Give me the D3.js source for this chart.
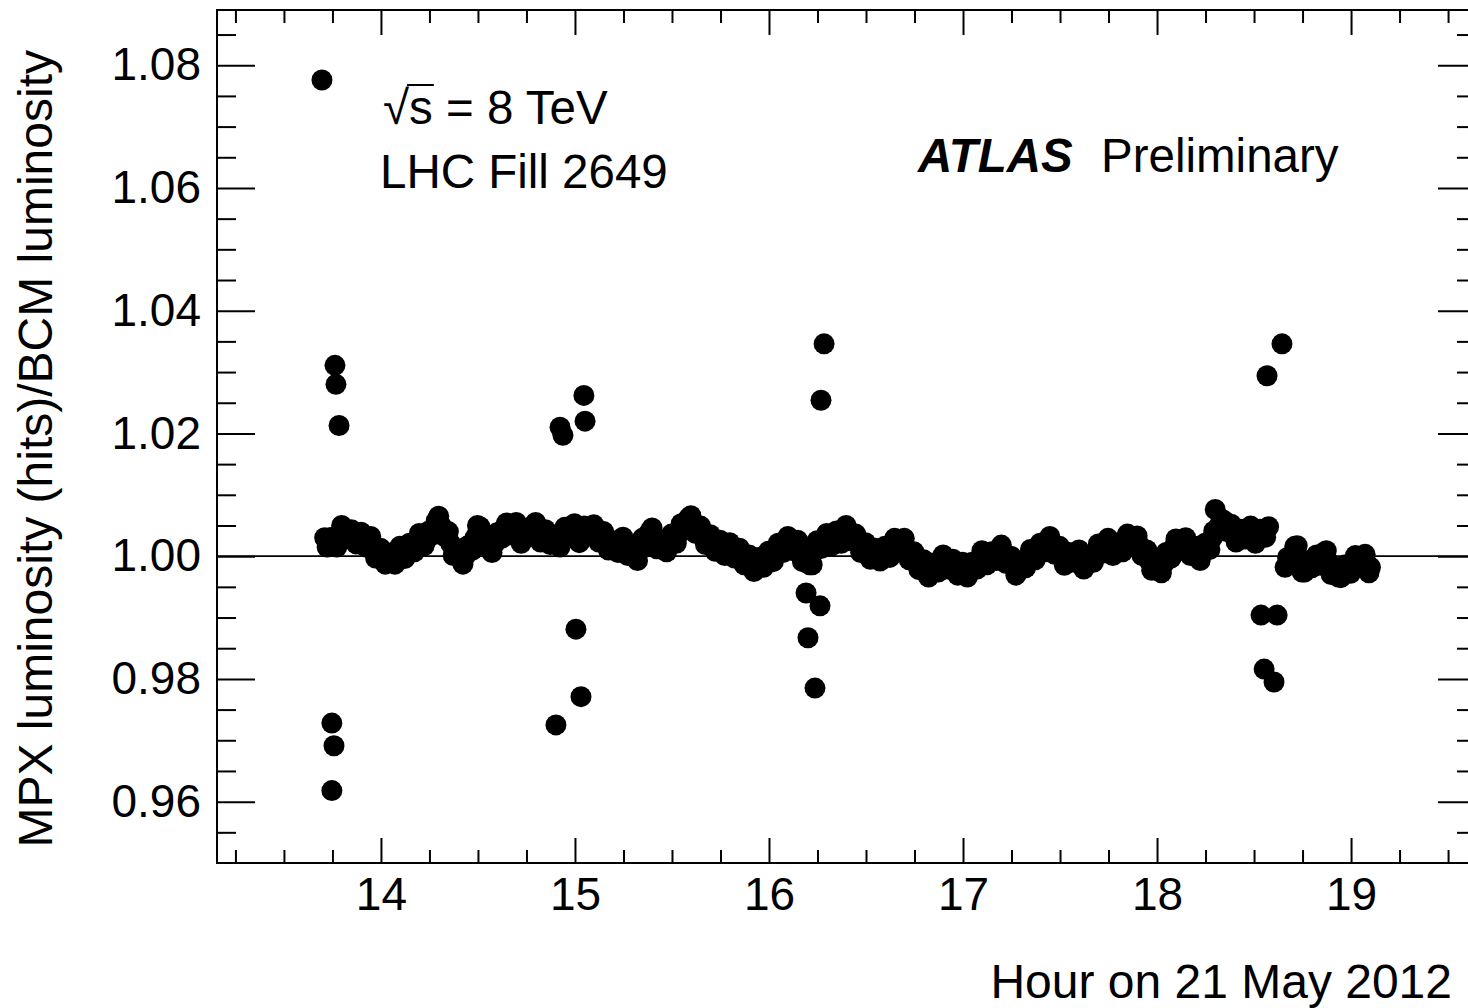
<!DOCTYPE html>
<html lang="en">
<head>
<meta charset="UTF-8">
<title>MPX / BCM luminosity ratio</title>
<script src="https://d3js.org/d3.v7.min.js"></script>
<style>
    body { margin: 0; background: #fff; overflow: hidden; }
    svg { display: block; font-family: "Liberation Sans", Arial, sans-serif; }
    .axis path { display: none; }
    .axis line { stroke: #000; stroke-width: 2; }
    .axis text { font-size: 46px; fill: #000; font-family: "Liberation Sans", Arial, sans-serif; }
</style>
</head>
<body>
<svg id="chart" width="1468" height="1008"></svg>
<script>
// band of ratio points (hour, MPX/BCM)
const bandHours = [
    13.710, 13.735, 13.760, 13.785, 13.810, 13.835, 13.860, 13.885, 13.910, 13.935,
    13.960, 13.985, 14.010, 14.035, 14.060, 14.085, 14.110, 14.135, 14.160, 14.185,
    14.210, 14.235, 14.260, 14.285, 14.310, 14.335, 14.360, 14.385, 14.410, 14.435,
    14.460, 14.485, 14.510, 14.535, 14.560, 14.585, 14.610, 14.635, 14.660, 14.685,
    14.710, 14.735, 14.760, 14.785, 14.810, 14.835, 14.860, 14.885, 14.910, 14.935,
    14.960, 14.985, 15.010, 15.035, 15.060, 15.085, 15.110, 15.135, 15.160, 15.185,
    15.210, 15.235, 15.260, 15.285, 15.310, 15.335, 15.360, 15.385, 15.410, 15.435,
    15.460, 15.485, 15.510, 15.535, 15.560, 15.585, 15.610, 15.635, 15.660, 15.685,
    15.710, 15.735, 15.760, 15.785, 15.810, 15.835, 15.860, 15.885, 15.910, 15.935,
    15.960, 15.985, 16.010, 16.035, 16.060, 16.085, 16.110, 16.135, 16.160, 16.185,
    16.210, 16.235, 16.260, 16.285, 16.310, 16.335, 16.360, 16.385, 16.410, 16.435,
    16.460, 16.485, 16.510, 16.535, 16.560, 16.585, 16.610, 16.635, 16.660, 16.685,
    16.710, 16.735, 16.760, 16.785, 16.810, 16.835, 16.860, 16.885, 16.910, 16.935,
    16.960, 16.985, 17.010, 17.035, 17.060, 17.085, 17.110, 17.135, 17.160, 17.185,
    17.210, 17.235, 17.260, 17.285, 17.310, 17.335, 17.360, 17.385, 17.410, 17.435,
    17.460, 17.485, 17.510, 17.535, 17.560, 17.585, 17.610, 17.635, 17.660, 17.685,
    17.710, 17.735, 17.760, 17.785, 17.810, 17.835, 17.860, 17.885, 17.910, 17.935,
    17.960, 17.985, 18.010, 18.035, 18.060, 18.085, 18.110, 18.135, 18.160, 18.185,
    18.210, 18.235, 18.260, 18.285, 18.300, 18.320, 18.345, 18.370, 18.395, 18.420,
    18.445, 18.470, 18.495, 18.520, 18.545, 18.575, 18.660, 18.685, 18.710, 18.735,
    18.760, 18.785, 18.810, 18.835, 18.860, 18.885, 18.910, 18.935, 18.960, 18.985,
    19.010, 19.035, 19.060, 19.085, 19.100
];
const bandRatio = [
    1.0030, 1.0022, 1.0018, 1.0035, 1.0044, 1.0036, 1.0028, 1.0035, 1.0022, 1.0030,
    1.0012, 1.0004, 1.0000, 0.9996, 0.9993, 1.0003, 1.0008, 1.0006, 1.0015, 1.0022,
    1.0030, 1.0026, 1.0035, 1.0058, 1.0050, 1.0038, 1.0020, 1.0004, 0.9996, 1.0000,
    1.0012, 1.0030, 1.0048, 1.0030, 1.0015, 1.0020, 1.0035, 1.0046, 1.0040, 1.0052,
    1.0036, 1.0028, 1.0040, 1.0050, 1.0038, 1.0030, 1.0034, 1.0026, 1.0022, 1.0030,
    1.0042, 1.0048, 1.0036, 1.0030, 1.0046, 1.0044, 1.0036, 1.0032, 1.0026, 1.0016,
    1.0012, 1.0022, 1.0018, 1.0005, 0.9998, 1.0010, 1.0025, 1.0040, 1.0030, 1.0016,
    1.0014, 1.0022, 1.0028, 1.0036, 1.0048, 1.0062, 1.0055, 1.0042, 1.0034, 1.0026,
    1.0022, 1.0016, 1.0014, 1.0010, 1.0012, 1.0004, 1.0000, 0.9994, 0.9988, 0.9984,
    0.9990, 0.9996, 0.9998, 1.0006, 1.0014, 1.0020, 1.0022, 1.0018, 1.0012, 0.9992,
    0.9986, 1.0008, 1.0020, 1.0028, 1.0024, 1.0032, 1.0028, 1.0036, 1.0042, 1.0030,
    1.0020, 1.0014, 1.0008, 1.0004, 1.0000, 1.0006, 1.0004, 1.0014, 1.0022, 1.0026,
    1.0010, 1.0000, 0.9992, 0.9986, 0.9980, 0.9974, 0.9982, 0.9988, 0.9994, 0.9986,
    0.9982, 0.9978, 0.9980, 0.9974, 0.9984, 0.9996, 1.0000, 0.9994, 0.9998, 1.0010,
    1.0004, 0.9994, 0.9984, 0.9976, 0.9986, 0.9998, 1.0002, 1.0008, 1.0012, 1.0024,
    1.0018, 1.0010, 1.0000, 0.9992, 0.9998, 1.0004, 0.9994, 0.9986, 0.9996, 1.0006,
    1.0012, 1.0020, 1.0016, 1.0008, 1.0014, 1.0022, 1.0028, 1.0026, 1.0018, 1.0006,
    0.9992, 0.9984, 0.9980, 0.9988, 1.0002, 1.0014, 1.0020, 1.0022, 1.0016, 1.0008,
    1.0002, 1.0006, 1.0014, 1.0030, 1.0076, 1.0050, 1.0058, 1.0044, 1.0038, 1.0030,
    1.0036, 1.0042, 1.0034, 1.0030, 1.0036, 1.0048, 0.9982, 0.9992, 1.0016, 0.9996,
    0.9974, 0.9988, 0.9996, 0.9986, 1.0006, 0.9990, 0.9972, 0.9966, 0.9970, 0.9980,
    0.9986, 0.9994, 0.9998, 0.9986, 0.9982
];

// interleaved readings that give the band its width
const band2Hours = [
    13.7225, 13.7475, 13.7725, 13.7975, 13.8225, 13.8475, 13.8725, 13.8975, 13.9225, 13.9475,
    13.9725, 13.9975, 14.0225, 14.0475, 14.0725, 14.0975, 14.1225, 14.1475, 14.1725, 14.1975,
    14.2225, 14.2475, 14.2725, 14.2975, 14.3225, 14.3475, 14.3725, 14.3975, 14.4225, 14.4475,
    14.4725, 14.4975, 14.5225, 14.5475, 14.5725, 14.5975, 14.6225, 14.6475, 14.6725, 14.6975,
    14.7225, 14.7475, 14.7725, 14.7975, 14.8225, 14.8475, 14.8725, 14.8975, 14.9225, 14.9475,
    14.9725, 14.9975, 15.0225, 15.0475, 15.0725, 15.0975, 15.1225, 15.1475, 15.1725, 15.1975,
    15.2225, 15.2475, 15.2725, 15.2975, 15.3225, 15.3475, 15.3725, 15.3975, 15.4225, 15.4475,
    15.4725, 15.4975, 15.5225, 15.5475, 15.5725, 15.5975, 15.6225, 15.6475, 15.6725, 15.6975,
    15.7225, 15.7475, 15.7725, 15.7975, 15.8225, 15.8475, 15.8725, 15.8975, 15.9225, 15.9475,
    15.9725, 15.9975, 16.0225, 16.0475, 16.0725, 16.0975, 16.1225, 16.1475, 16.1725, 16.1975,
    16.2225, 16.2475, 16.2725, 16.2975, 16.3225, 16.3475, 16.3725, 16.3975, 16.4225, 16.4475,
    16.4725, 16.4975, 16.5225, 16.5475, 16.5725, 16.5975, 16.6225, 16.6475, 16.6725, 16.6975,
    16.7225, 16.7475, 16.7725, 16.7975, 16.8225, 16.8475, 16.8725, 16.8975, 16.9225, 16.9475,
    16.9725, 16.9975, 17.0225, 17.0475, 17.0725, 17.0975, 17.1225, 17.1475, 17.1725, 17.1975,
    17.2225, 17.2475, 17.2725, 17.2975, 17.3225, 17.3475, 17.3725, 17.3975, 17.4225, 17.4475,
    17.4725, 17.4975, 17.5225, 17.5475, 17.5725, 17.5975, 17.6225, 17.6475, 17.6725, 17.6975,
    17.7225, 17.7475, 17.7725, 17.7975, 17.8225, 17.8475, 17.8725, 17.8975, 17.9225, 17.9475,
    17.9725, 17.9975, 18.0225, 18.0475, 18.0725, 18.0975, 18.1225, 18.1475, 18.1725, 18.1975,
    18.2225, 18.2475, 18.2725, 18.2925, 18.3100, 18.3325, 18.3575, 18.3825, 18.4075, 18.4325,
    18.4575, 18.4825, 18.5075, 18.5325, 18.5600, 18.6725, 18.6975, 18.7225, 18.7475,
    18.7725, 18.7975, 18.8225, 18.8475, 18.8725, 18.8975, 18.9225, 18.9475, 18.9725, 18.9975,
    19.0225, 19.0475, 19.0725, 19.0925
];
const band2Ratio = [
    1.0015, 1.0031, 1.0015, 1.0050, 1.0029, 1.0043, 1.0020, 1.0039, 1.0015, 1.0032,
    0.9997, 1.0013, 0.9987, 1.0005, 0.9987, 1.0016, 0.9996, 1.0021, 1.0007, 1.0037,
    1.0017, 1.0041, 1.0035, 1.0065, 1.0033, 1.0040, 1.0001, 1.0011, 0.9987, 1.0017,
    1.0010, 1.0050, 1.0028, 1.0033, 1.0006, 1.0038, 1.0029, 1.0054, 1.0035, 1.0055,
    1.0021, 1.0045, 1.0034, 1.0055, 1.0023, 1.0043, 1.0019, 1.0035, 1.0015, 1.0047,
    1.0034, 1.0053, 1.0022, 1.0049, 1.0034, 1.0051, 1.0023, 1.0040, 1.0010, 1.0025,
    1.0006, 1.0031, 1.0001, 1.0013, 0.9993, 1.0029, 1.0021, 1.0046, 1.0012, 1.0026,
    1.0007, 1.0036, 1.0021, 1.0053, 1.0044, 1.0066, 1.0037, 1.0049, 1.0019, 1.0035,
    1.0008, 1.0026, 1.0001, 1.0022, 0.9997, 1.0013, 0.9986, 1.0002, 0.9975, 0.9998,
    0.9982, 1.0008, 0.9991, 1.0021, 1.0006, 1.0032, 1.0009, 1.0026, 0.9991, 1.0000,
    0.9986, 1.0025, 1.0013, 1.0037, 1.0017, 1.0041, 1.0021, 1.0050, 1.0025, 1.0036,
    1.0006, 1.0022, 0.9995, 1.0013, 0.9992, 1.0016, 0.9998, 1.0029, 1.0013, 1.0029,
    0.9994, 1.0007, 0.9978, 0.9994, 0.9966, 0.9989, 0.9974, 1.0002, 0.9979, 0.9995,
    0.9969, 0.9990, 0.9966, 0.9990, 0.9979, 1.0009, 0.9986, 1.0007, 0.9993, 1.0018,
    0.9988, 1.0000, 0.9969, 0.9992, 0.9981, 1.0011, 0.9994, 1.0021, 1.0007, 1.0032,
    1.0003, 1.0016, 0.9985, 1.0006, 0.9990, 1.0010, 0.9979, 1.0002, 0.9990, 1.0020,
    1.0005, 1.0029, 1.0001, 1.0022, 1.0007, 1.0036, 1.0016, 1.0033, 1.0001, 1.0010,
    0.9977, 0.9993, 0.9973, 1.0006, 0.9997, 1.0028, 1.0010, 1.0030, 1.0001, 1.0016,
    0.9993, 1.0021, 1.0011, 1.0041, 1.0040, 1.0060, 1.0040, 1.0052, 1.0023, 1.0044,
    1.0028, 1.0049, 1.0021, 1.0044, 1.0031, 0.9998, 0.9993, 1.0017, 0.9974,
    0.9992, 0.9981, 1.0002, 0.9985, 1.0009, 0.9970, 0.9980, 0.9965, 0.9986, 0.9972,
    1.0001, 0.9985, 1.0003, 0.9973
];

// outliers around the calibration scans
const outlierHours = [
    13.696, 13.763, 13.768, 13.784, 13.747, 13.758, 13.747,
    14.923, 14.938, 15.046, 15.052, 15.005, 15.031, 14.902,
    16.284, 16.268, 16.191, 16.263, 16.201, 16.237,
    18.567, 18.644, 18.536, 18.619, 18.552, 18.603
];
const outlierRatio = [
    1.0776, 1.0311, 1.0280, 1.0213, 0.9728, 0.9691, 0.9618,
    1.0210, 1.0197, 1.0262, 1.0220, 0.9881, 0.9771, 0.9725,
    1.0346, 1.0254, 0.9940, 0.9919, 0.9867, 0.9785,
    1.0294, 1.0346, 0.9904, 0.9904, 0.9816, 0.9795
];

const xMajor = [14, 15, 16, 17, 18, 19];
const xMinor = [13.25, 13.5, 13.75, 14.25, 14.5, 14.75, 15.25, 15.5, 15.75, 16.25, 16.5, 16.75,
                17.25, 17.5, 17.75, 18.25, 18.5, 18.75, 19.25, 19.5];
const yMajor = [0.96, 0.98, 1.00, 1.02, 1.04, 1.06, 1.08];
const yMinor = [0.955, 0.965, 0.97, 0.975, 0.985, 0.99, 0.995, 1.005, 1.01, 1.015, 1.025, 1.03,
                1.035, 1.045, 1.05, 1.055, 1.065, 1.07, 1.075, 1.085];

const xTitle = "Hour on 21 May 2012";
const yTitle = "MPX luminosity (hits)/BCM luminosity";

const plotL = 217, plotR = 1476, plotT = 10, plotB = 863;

const svg = d3.select("#chart");

const x = d3.scaleLinear().domain([13.155, 19.644]).range([plotL, plotR]);
const y = d3.scaleLinear().domain([0.95, 1.089]).range([plotB, plotT]);

// reference line at 1
svg.append("line")
    .attr("x1", plotL).attr("x2", plotR)
    .attr("y1", y(1)).attr("y2", y(1))
    .attr("stroke", "#000").attr("stroke-width", 1.6);

// points
const pts = bandHours.map((h, i) => [h, bandRatio[i]])
    .concat(band2Hours.map((h, i) => [h, band2Ratio[i]]))
    .concat(outlierHours.map((h, i) => [h, outlierRatio[i]]));

svg.append("g")
    .selectAll("circle")
    .data(pts)
    .join("circle")
    .attr("cx", d => x(d[0]))
    .attr("cy", d => y(d[1]))
    .attr("r", 10.5)
    .attr("fill", "#000");

// axes, ticks pointing inward
svg.append("g").attr("class", "axis")
    .attr("transform", `translate(0,${plotB})`)
    .call(d3.axisBottom(x).tickValues(xMajor).tickFormat(d3.format("d"))
        .tickSizeInner(-25).tickSizeOuter(0).tickPadding(14));
svg.append("g").attr("class", "axis")
    .attr("transform", `translate(0,${plotB})`)
    .call(d3.axisBottom(x).tickValues(xMinor).tickFormat("").tickSizeInner(-13).tickSizeOuter(0));
svg.append("g").attr("class", "axis")
    .attr("transform", `translate(0,${plotT})`)
    .call(d3.axisTop(x).tickValues(xMajor).tickFormat("").tickSizeInner(-25).tickSizeOuter(0));
svg.append("g").attr("class", "axis")
    .attr("transform", `translate(0,${plotT})`)
    .call(d3.axisTop(x).tickValues(xMinor).tickFormat("").tickSizeInner(-13).tickSizeOuter(0));

svg.append("g").attr("class", "axis")
    .attr("transform", `translate(${plotL},0)`)
    .call(d3.axisLeft(y).tickValues(yMajor).tickFormat(d3.format(".2f"))
        .tickSizeInner(-38).tickSizeOuter(0).tickPadding(16));
svg.append("g").attr("class", "axis")
    .attr("transform", `translate(${plotL},0)`)
    .call(d3.axisLeft(y).tickValues(yMinor).tickFormat("").tickSizeInner(-19).tickSizeOuter(0));
svg.append("g").attr("class", "axis")
    .attr("transform", `translate(${plotR},0)`)
    .call(d3.axisRight(y).tickValues(yMajor).tickFormat("").tickSizeInner(-38).tickSizeOuter(0));
svg.append("g").attr("class", "axis")
    .attr("transform", `translate(${plotR},0)`)
    .call(d3.axisRight(y).tickValues(yMinor).tickFormat("").tickSizeInner(-19).tickSizeOuter(0));

// frame
svg.append("rect")
    .attr("x", plotL).attr("y", plotT)
    .attr("width", plotR - plotL).attr("height", plotB - plotT)
    .attr("fill", "none").attr("stroke", "#000").attr("stroke-width", 2);

// axis titles
svg.append("text")
    .attr("x", 1452).attr("y", 998)
    .attr("text-anchor", "end")
    .attr("font-size", 48)
    .text(xTitle);

svg.append("text")
    .attr("transform", "translate(52,50) rotate(-90)")
    .attr("text-anchor", "end")
    .attr("font-size", 48)
    .text(yTitle);

// labels
const rs = svg.append("text")
    .attr("x", 383).attr("y", 124)
    .attr("font-size", 47.5)
    .text("√s = 8 TeV");
// overline on the s under the root
const sBox = rs.node().getExtentOfChar(1);
svg.append("line")
    .attr("x1", sBox.x - 2).attr("x2", sBox.x + sBox.width + 1)
    .attr("y1", sBox.y + 4).attr("y2", sBox.y + 4)
    .attr("stroke", "#000").attr("stroke-width", 2);

svg.append("text")
    .attr("x", 380).attr("y", 188)
    .attr("font-size", 47.5)
    .text("LHC Fill 2649");

svg.append("text")
    .attr("x", 918).attr("y", 172)
    .attr("font-size", 47.5)
    .attr("font-weight", "bold").attr("font-style", "italic")
    .text("ATLAS");
svg.append("text")
    .attr("x", 1101).attr("y", 172)
    .attr("font-size", 47.5)
    .text("Preliminary");
</script>
</body>
</html>
